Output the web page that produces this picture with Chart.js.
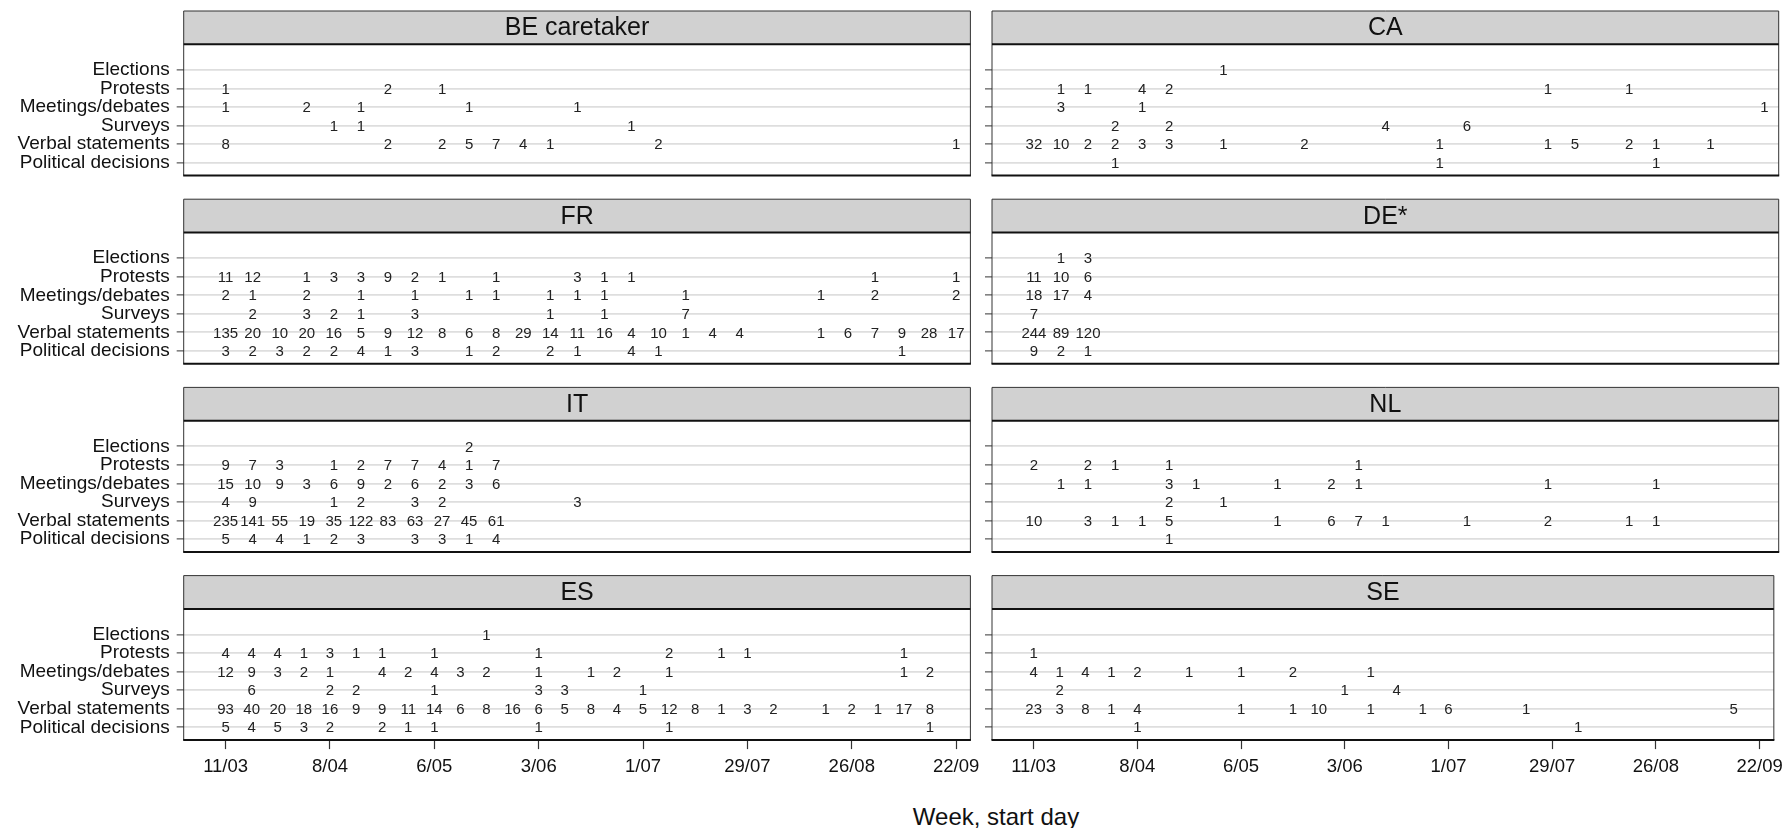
<!DOCTYPE html>
<html>
<head>
<meta charset="utf-8">
<script src="https://cdn.jsdelivr.net/npm/chart.js@4.4.1/dist/chart.umd.min.js"></script>
<style>
  body { margin: 0; background: #fff; width: 1790px; height: 828px; position: relative; overflow: hidden;
         font-family: "Liberation Sans", Arial, sans-serif; }
  canvas { position: absolute; }
  #xtitle { position: absolute; left: 0; width: 1992px; top: 805px; text-align: center;
            font-size: 24px; line-height: 24px; color: #111; }
</style>
</head>
<body>
<div id="xtitle">Week, start day</div>
<script>
const categories = ['Elections', 'Protests', 'Meetings/debates', 'Surveys', 'Verbal statements', 'Political decisions'];
const tickWeeks = [0, 4, 8, 12, 16, 20, 24, 28];
const tickLabels = ['11/03', '8/04', '6/05', '3/06', '1/07', '29/07', '26/08', '22/09'];

// one list per category, each entry [week, count]
const beCaretaker = [
  [],
  [[0, 1], [6, 2], [8, 1]],
  [[0, 1], [3, 2], [5, 1], [9, 1], [13, 1]],
  [[4, 1], [5, 1], [15, 1]],
  [[0, 8], [6, 2], [8, 2], [9, 5], [10, 7], [11, 4], [12, 1], [16, 2], [27, 1]],
  []
];
const ca = [
  [[7, 1]],
  [[1, 1], [2, 1], [4, 4], [5, 2], [19, 1], [22, 1]],
  [[1, 3], [4, 1], [27, 1]],
  [[3, 2], [5, 2], [13, 4], [16, 6]],
  [[0, 32], [1, 10], [2, 2], [3, 2], [4, 3], [5, 3], [7, 1], [10, 2], [15, 1], [19, 1], [20, 5], [22, 2], [23, 1], [25, 1]],
  [[3, 1], [15, 1], [23, 1]]
];
const fr = [
  [],
  [[0, 11], [1, 12], [3, 1], [4, 3], [5, 3], [6, 9], [7, 2], [8, 1], [10, 1], [13, 3], [14, 1], [15, 1], [24, 1], [27, 1]],
  [[0, 2], [1, 1], [3, 2], [5, 1], [7, 1], [9, 1], [10, 1], [12, 1], [13, 1], [14, 1], [17, 1], [22, 1], [24, 2], [27, 2]],
  [[1, 2], [3, 3], [4, 2], [5, 1], [7, 3], [12, 1], [14, 1], [17, 7]],
  [[0, 135], [1, 20], [2, 10], [3, 20], [4, 16], [5, 5], [6, 9], [7, 12], [8, 8], [9, 6], [10, 8], [11, 29], [12, 14], [13, 11],
   [14, 16], [15, 4], [16, 10], [17, 1], [18, 4], [19, 4], [22, 1], [23, 6], [24, 7], [25, 9], [26, 28], [27, 17]],
  [[0, 3], [1, 2], [2, 3], [3, 2], [4, 2], [5, 4], [6, 1], [7, 3], [9, 1], [10, 2], [12, 2], [13, 1], [15, 4], [16, 1], [25, 1]]
];
const de = [
  [[1, 1], [2, 3]],
  [[0, 11], [1, 10], [2, 6]],
  [[0, 18], [1, 17], [2, 4]],
  [[0, 7]],
  [[0, 244], [1, 89], [2, 120]],
  [[0, 9], [1, 2], [2, 1]]
];
const it = [
  [[9, 2]],
  [[0, 9], [1, 7], [2, 3], [4, 1], [5, 2], [6, 7], [7, 7], [8, 4], [9, 1], [10, 7]],
  [[0, 15], [1, 10], [2, 9], [3, 3], [4, 6], [5, 9], [6, 2], [7, 6], [8, 2], [9, 3], [10, 6]],
  [[0, 4], [1, 9], [4, 1], [5, 2], [7, 3], [8, 2], [13, 3]],
  [[0, 235], [1, 141], [2, 55], [3, 19], [4, 35], [5, 122], [6, 83], [7, 63], [8, 27], [9, 45], [10, 61]],
  [[0, 5], [1, 4], [2, 4], [3, 1], [4, 2], [5, 3], [7, 3], [8, 3], [9, 1], [10, 4]]
];
const nl = [
  [],
  [[0, 2], [2, 2], [3, 1], [5, 1], [12, 1]],
  [[1, 1], [2, 1], [5, 3], [6, 1], [9, 1], [11, 2], [12, 1], [19, 1], [23, 1]],
  [[5, 2], [7, 1]],
  [[0, 10], [2, 3], [3, 1], [4, 1], [5, 5], [9, 1], [11, 6], [12, 7], [13, 1], [16, 1], [19, 2], [22, 1], [23, 1]],
  [[5, 1]]
];
const es = [
  [[10, 1]],
  [[0, 4], [1, 4], [2, 4], [3, 1], [4, 3], [5, 1], [6, 1], [8, 1], [12, 1], [17, 2], [19, 1], [20, 1], [26, 1]],
  [[0, 12], [1, 9], [2, 3], [3, 2], [4, 1], [6, 4], [7, 2], [8, 4], [9, 3], [10, 2], [12, 1], [14, 1], [15, 2], [17, 1], [26, 1], [27, 2]],
  [[1, 6], [4, 2], [5, 2], [8, 1], [12, 3], [13, 3], [16, 1]],
  [[0, 93], [1, 40], [2, 20], [3, 18], [4, 16], [5, 9], [6, 9], [7, 11], [8, 14], [9, 6], [10, 8], [11, 16], [12, 6], [13, 5],
   [14, 8], [15, 4], [16, 5], [17, 12], [18, 8], [19, 1], [20, 3], [21, 2], [23, 1], [24, 2], [25, 1], [26, 17], [27, 8]],
  [[0, 5], [1, 4], [2, 5], [3, 3], [4, 2], [6, 2], [7, 1], [8, 1], [12, 1], [17, 1], [27, 1]]
];
const se = [
  [],
  [[0, 1]],
  [[0, 4], [1, 1], [2, 4], [3, 1], [4, 2], [6, 1], [8, 1], [10, 2], [13, 1]],
  [[1, 2], [12, 1], [14, 4]],
  [[0, 23], [1, 3], [2, 8], [3, 1], [4, 4], [8, 1], [10, 1], [11, 10], [13, 1], [15, 1], [16, 6], [19, 1], [27, 5]],
  [[4, 1], [21, 1]]
];

// x spans: the bottom-row panels run a little wider than the others
const longSpan = { min: -1.606, max: 28.547 };
const shortSpan = { min: -1.549, max: 27.527 };

const panels = [
  { title: 'BE caretaker', rows: beCaretaker, col: 0, row: 0, span: shortSpan },
  { title: 'CA', rows: ca, col: 1, row: 0, span: shortSpan },
  { title: 'FR', rows: fr, col: 0, row: 1, span: shortSpan },
  { title: 'DE*', rows: de, col: 1, row: 1, span: shortSpan },
  { title: 'IT', rows: it, col: 0, row: 2, span: shortSpan },
  { title: 'NL', rows: nl, col: 1, row: 2, span: shortSpan },
  { title: 'ES', rows: es, col: 0, row: 3, span: longSpan },
  { title: 'SE', rows: se, col: 1, row: 3, span: longSpan }
];

Chart.defaults.font.family = '"Liberation Sans", Arial, sans-serif';
Chart.defaults.color = '#111';

const facetStrip = {
  id: 'facetStrip',
  afterDraw(chart, args, opts) {
    const { ctx, chartArea: a } = chart;
    const top = a.top - 33.3;
    ctx.save();
    ctx.fillStyle = '#d1d1d1';
    ctx.fillRect(a.left, top, a.right - a.left, 33.3);
    ctx.strokeStyle = '#333';
    ctx.lineWidth = 1;
    ctx.beginPath();
    ctx.moveTo(a.left, a.bottom); ctx.lineTo(a.left, top); ctx.lineTo(a.right, top); ctx.lineTo(a.right, a.bottom);
    ctx.stroke();
    ctx.strokeStyle = '#111';
    ctx.lineWidth = 2;
    ctx.beginPath();
    ctx.moveTo(a.left, a.top); ctx.lineTo(a.right, a.top);
    ctx.moveTo(a.left - 0.5, a.bottom); ctx.lineTo(a.right + 0.5, a.bottom);
    ctx.stroke();
    ctx.fillStyle = '#111';
    ctx.font = '25px "Liberation Sans", Arial, sans-serif';
    ctx.textAlign = 'center';
    ctx.textBaseline = 'middle';
    ctx.fillText(opts.title, (a.left + a.right) / 2, top + 17.5);
    ctx.restore();
  }
};

const countLabels = {
  id: 'countLabels',
  afterDatasetsDraw(chart) {
    const ctx = chart.ctx;
    const ds = chart.data.datasets[0];
    const meta = chart.getDatasetMeta(0);
    ctx.save();
    ctx.font = '15px "Liberation Sans", Arial, sans-serif';
    ctx.fillStyle = '#222';
    ctx.textAlign = 'center';
    ctx.textBaseline = 'middle';
    meta.data.forEach((pt, i) => ctx.fillText(String(ds.data[i].v), pt.x, pt.y + 1));
    ctx.restore();
  }
};

panels.forEach(p => {
  const bottomRow = p.row === 3;
  const canvasLeft = p.col === 0 ? 0 : 975;
  const canvasW = p.col === 0 ? 990 : 815;
  const areaLeft = p.col === 0 ? 183.7 : 992;
  const areaRight = areaLeft + 786.7;
  const canvasTop = Math.floor(188.2 * p.row);
  const areaTop = 44.3 + 188.2 * p.row;
  const areaBottom = 175.5 + 188.2 * p.row;
  const xAxisH = bottomRow ? 46 : 0;
  const canvasH = Math.ceil(areaBottom - canvasTop) + (bottomRow ? xAxisH + 2 : 24);

  const cv = document.createElement('canvas');
  cv.width = canvasW; cv.height = canvasH;
  cv.style.left = canvasLeft + 'px'; cv.style.top = canvasTop + 'px';
  document.body.appendChild(cv);

  const points = [];
  p.rows.forEach((list, ci) => list.forEach(([w, n]) => points.push({ x: w, y: ci, v: n })));

  new Chart(cv, {
    type: 'scatter',
    data: { datasets: [{ data: points, pointRadius: 0, pointHoverRadius: 0 }] },
    options: {
      responsive: false,
      animation: false,
      events: [],
      layout: {
        padding: {
          top: areaTop - canvasTop,
          left: 0,
          right: canvasLeft + canvasW - areaRight,
          bottom: canvasTop + canvasH - areaBottom - xAxisH
        }
      },
      plugins: {
        legend: { display: false },
        tooltip: { enabled: false },
        facetStrip: { title: p.title }
      },
      scales: {
        x: {
          type: 'linear',
          min: p.span.min,
          max: p.span.max,
          display: bottomRow,
          afterBuildTicks: s => { s.ticks = tickWeeks.map(v => ({ value: v })); },
          afterFit: s => { s.height = xAxisH; },
          grid: { drawOnChartArea: false, drawTicks: true, tickLength: 9, tickColor: '#333', tickWidth: 1.2 },
          border: { display: false },
          ticks: {
            autoSkip: false, maxRotation: 0, padding: 7,
            font: { size: 18.5 }, color: '#111',
            callback: (v, i) => tickLabels[i]
          }
        },
        y: {
          type: 'linear',
          reverse: true,
          min: -1.386,
          max: 5.69,
          afterBuildTicks: s => { s.ticks = categories.map((c, i) => ({ value: i })); },
          afterFit: s => { s.width = areaLeft - canvasLeft; },
          grid: { color: '#dedede', lineWidth: 1.8, drawTicks: true, tickLength: 7, tickColor: '#333', tickWidth: 1 },
          border: { display: false },
          ticks: {
            display: p.col === 0,
            autoSkip: false, padding: 7,
            font: { size: 19 }, color: '#111',
            callback: v => categories[v]
          }
        }
      }
    },
    plugins: [facetStrip, countLabels]
  });
});
</script>
</body>
</html>
